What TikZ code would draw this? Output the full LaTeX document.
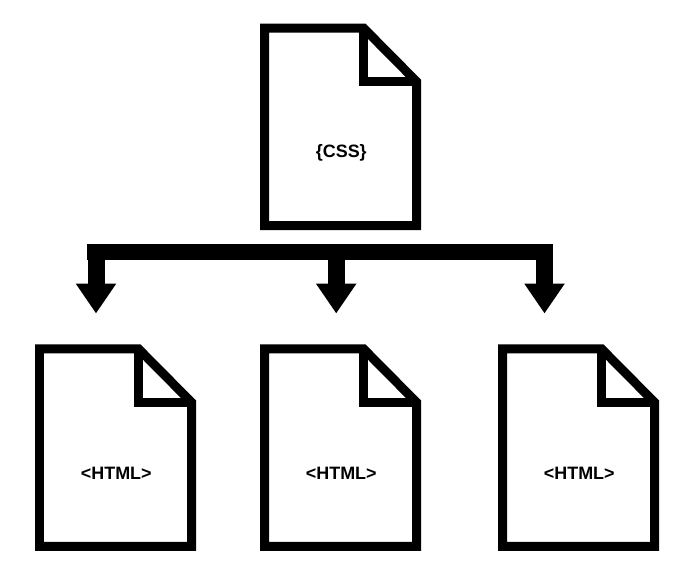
\documentclass[tikz,border=0pt]{standalone}
\usepackage{fontspec}
\setmainfont{Liberation Sans}
\usetikzlibrary{arrows.meta}

\tikzset{
  docline/.style={line width=0.18cm, miter limit=10},
  doclabel/.style={font=\fontsize{10.2pt}{12pt}\selectfont\bfseries, inner sep=0pt},
  busline/.style={line width=0.32cm},
  busarrow/.style={line width=0.34cm, -{Triangle[length=0.6cm,width=0.77cm]}}
}

% name, left x, top y, label
\newcommand{\docfile}[4]{
\draw[docline] (#2,#3) -- (#2+99,#3) -- (#2+152,#3+53.5) -- (#2+152,#3+197.5) -- (#2,#3+197.5) -- cycle;
\draw[docline] (#2+99,#3) -- (#2+99,#3+53.5) -- (#2+152,#3+53.5);
\node[doclabel] (#1) at (#2+76.8,#3+124.5) {#4};
}

\begin{document}
\begin{tikzpicture}[x=0.02cm,y=-0.02cm]
\useasboundingbox (0,0) rectangle (695,585);

\docfile{css}{264.5}{28}{\{CSS\}}
\docfile{htmlA}{39.5}{348.8}{<HTML>}
\docfile{htmlB}{264.5}{348.8}{<HTML>}
\docfile{htmlC}{502.5}{348.8}{<HTML>}

\coordinate (busL) at (87.3,252.3);
\coordinate (busR) at (553,252.3);
\coordinate (busA) at (96,252.3);
\coordinate (busB) at (336.2,252.3);
\coordinate (busC) at (544.5,252.3);
\coordinate (tipA) at (96,313.5);
\coordinate (tipB) at (336.2,313.5);
\coordinate (tipC) at (544.5,313.5);

\draw[busline] (busL) -- (busR);
\draw[busarrow] (busA) -- (tipA);
\draw[busarrow] (busB) -- (tipB);
\draw[busarrow] (busC) -- (tipC);

\end{tikzpicture}
\end{document}
